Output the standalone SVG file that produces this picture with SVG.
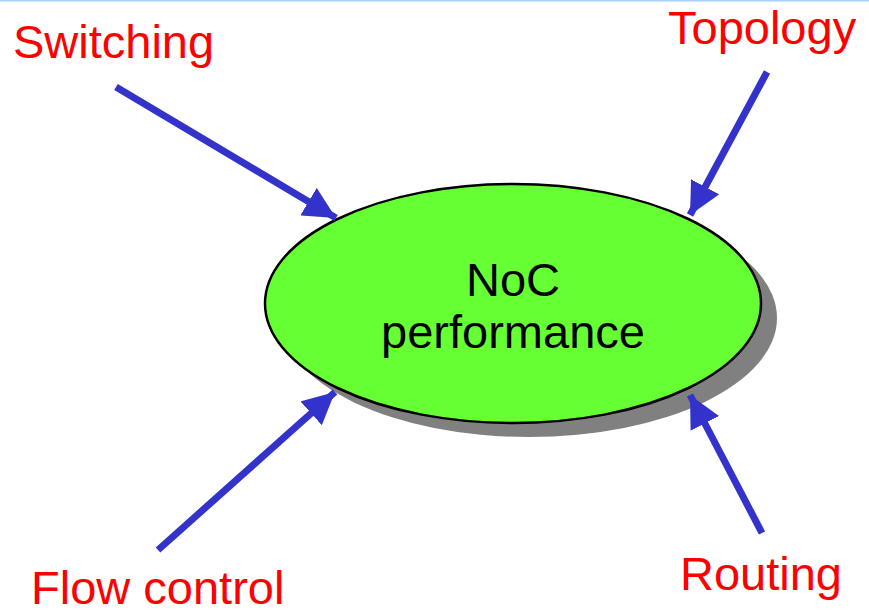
<svg xmlns="http://www.w3.org/2000/svg" width="869" height="611" viewBox="0 0 869 611">
<style>
.lbl{font-family:"Liberation Sans",Arial,sans-serif;font-size:47px;fill:#ff0000}
.ctr{font-family:"Liberation Sans",Arial,sans-serif;font-size:47px;fill:#000000;text-anchor:middle}
.arr{stroke:#3333cc;stroke-width:7;fill:none}
</style>
<defs>
<marker id="ah" markerUnits="userSpaceOnUse" markerWidth="34" markerHeight="32" refX="32" refY="16" orient="auto">
<path d="M0,0 L32,16 L0,32 Z" fill="#3333cc"/>
</marker>
</defs>
<rect width="869" height="611" fill="#ffffff"/>
<line x1="0" y1="0.75" x2="869" y2="0.75" stroke="#a6d2ff" stroke-width="1.5"/>
<g id="noc">
<ellipse cx="529" cy="318" rx="248" ry="119" fill="#808080"/>
<ellipse cx="513" cy="303.5" rx="248" ry="119.5" fill="#66ff33" stroke="#000000" stroke-width="2.5"/>
<text class="ctr" x="513" y="296">NoC</text>
<text class="ctr" x="513" y="348">performance</text>
</g>
<g id="switching"><text class="lbl" x="13" y="58">Switching</text></g>
<g id="topology"><text class="lbl" x="668" y="44">Topology</text></g>
<g id="flowcontrol"><text class="lbl" x="31" y="604">Flow control</text></g>
<g id="routing"><text class="lbl" x="680" y="590">Routing</text></g>
<g id="connectors">
<line class="arr" x1="116" y1="87" x2="336" y2="218" marker-end="url(#ah)"/>
<line class="arr" x1="767" y1="72" x2="690" y2="215" marker-end="url(#ah)"/>
<line class="arr" x1="158" y1="550" x2="335" y2="392" marker-end="url(#ah)"/>
<line class="arr" x1="762" y1="533" x2="690" y2="395" marker-end="url(#ah)"/>
</g>
</svg>
